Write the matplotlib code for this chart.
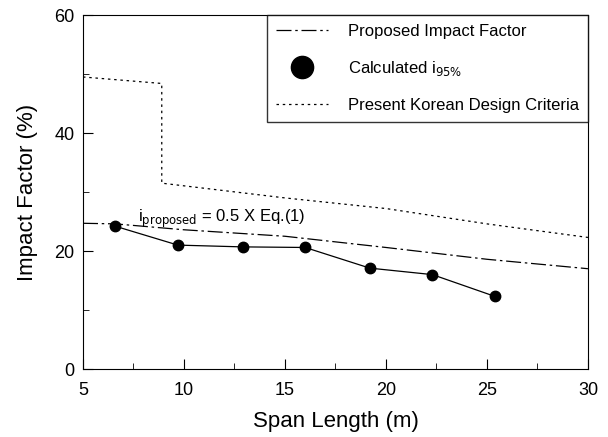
import numpy as np
import matplotlib
matplotlib.use('Agg')
import matplotlib.pyplot as plt
from matplotlib.lines import Line2D

plt.rcParams['font.family'] = ['Liberation Sans', 'DejaVu Sans']

# data
span_calc = [6.6, 9.7, 12.9, 16.0, 19.2, 22.3, 25.4]
imp_calc = [24.2, 21.0, 20.7, 20.6, 17.1, 16.0, 12.3]

span_prop = [5, 6.6, 10, 15, 20, 25, 30]
imp_prop = [24.7, 24.6, 23.6, 22.5, 20.6, 18.6, 17.0]

span_kor = [5, 8.9, 8.9, 15, 20, 25, 30]
imp_kor = [49.5, 48.4, 31.5, 29.0, 27.2, 24.6, 22.3]

fig = plt.figure(figsize=(6.08, 4.37), dpi=100)
ax = fig.add_axes([0.1365, 0.1556, 0.8305, 0.81])

ax.plot(span_prop, imp_prop, color='black', lw=0.9, dashes=[12, 3, 2, 3])
ax.plot(span_kor, imp_kor, color='black', lw=0.9, dashes=[2, 3])
ax.plot(span_calc, imp_calc, color='black', lw=0.9, marker='o', ms=7.5)

ax.text(7.7, 24.9, r'i$_{\mathrm{proposed}}$ = 0.5 X Eq.(1)', fontsize=12)

ax.set_xlim(5, 30)
ax.set_ylim(0, 60)
ax.set_xticks([5, 10, 15, 20, 25, 30])
ax.set_yticks([0, 20, 40, 60])
ax.set_xticks(np.arange(5, 30.1, 2.5), minor=True)
ax.set_yticks(np.arange(0, 60.1, 10), minor=True)
ax.tick_params(which='both', direction='in', labelsize=13)
ax.tick_params(which='major', length=7)
ax.tick_params(which='minor', length=4)
ax.tick_params(axis='x', pad=9)
ax.tick_params(axis='y', pad=6)
ax.set_xlabel('Span Length (m)', fontsize=16, labelpad=9)
ax.set_ylabel('Impact Factor (%)', fontsize=16, labelpad=12)

handles = [
    Line2D([], [], color='black', lw=0.9, dashes=[12, 3, 2, 3]),
    Line2D([], [], color='black', ls='none', marker='o', ms=16),
    Line2D([], [], color='black', lw=0.9, dashes=[2, 3]),
]
labels = ['Proposed Impact Factor', r'Calculated i$_{95\%}$', 'Present Korean Design Criteria']
leg = ax.legend(handles, labels, loc='upper right', fontsize=12, frameon=True,
                fancybox=False, edgecolor='black', borderaxespad=0,
                handlelength=3.1, handletextpad=1.2, labelspacing=1.2,
                borderpad=0.55)
leg.get_frame().set_linewidth(1.0)

fig.savefig('out.png', dpi=100)
